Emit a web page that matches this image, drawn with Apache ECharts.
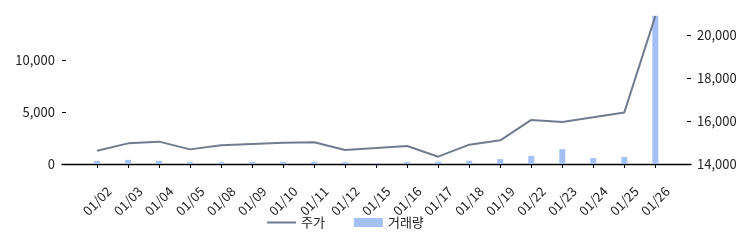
<!DOCTYPE html>
<html>
<head>
<meta charset="utf-8">
<script src="https://cdn.jsdelivr.net/npm/echarts@6/dist/echarts.min.js"></script>
<style>
html,body{margin:0;padding:0;background:#fff;}
#chart{width:751px;height:247px;}
</style>
</head>
<body>
<div id="chart"></div>
<script>
const categories = ['01/02','01/03','01/04','01/05','01/08','01/09','01/10','01/11','01/12','01/15','01/16','01/17','01/18','01/19','01/22','01/23','01/24','01/25','01/26'];
const price = [14620,14960,15040,14680,14870,14930,14990,15010,14650,14740,14840,14340,14900,15100,16050,15950,16170,16400,20880];
const volume = [280,400,300,180,170,190,200,210,170,90,200,220,300,470,780,1430,570,680,14230];
const volumeTicks = [0,5000,10000];
const priceTicks = [14000,16000,18000,20000];

const idx = categories.map((_, i) => i);
const FONT = '"Noto Sans CJK KR", "Noto Sans", sans-serif';
const chart = echarts.init(document.getElementById('chart'), null, {renderer: 'canvas'});
chart.setOption({
  animation: false,
  textStyle: {fontFamily: FONT},
  grid: {left: 62, right: 60, top: 12, bottom: 83, containLabel: false},
  legend: {
    left: 262, top: 211,
    itemWidth: 29, itemHeight: 9, itemGap: 29,
    symbolKeepAspect: true,
    textStyle: {fontFamily: FONT, fontSize: 13, color: '#222'},
    data: [
      {name: '주가', icon: 'path://M0,0L29,0L29,2L0,2Z'},
      {name: '거래량', icon: 'rect'}
    ]
  },
  xAxis: {
    type: 'value', min: -1.13, max: 19.15,
    splitLine: {show: false},
    axisLine: {show: true, onZero: false, lineStyle: {color: '#000', width: 1.3}},
    axisTick: {show: true, length: 4, customValues: idx, lineStyle: {color: '#000'}},
    axisLabel: {
      customValues: idx, rotate: 45, align: 'center', verticalAlign: 'middle', margin: 37,
      fontFamily: FONT, fontSize: 13, color: '#222',
      formatter: v => categories[Math.round(v)]
    }
  },
  yAxis: [
    {
      type: 'value', min: 0, max: 14600, position: 'left',
      splitLine: {show: false},
      axisLine: {show: false, onZero: false},
      axisTick: {show: true, inside: true, length: 4, customValues: volumeTicks, lineStyle: {color: '#000'}},
      axisLabel: {customValues: volumeTicks, margin: 7, fontFamily: FONT, fontSize: 13, color: '#222',
        formatter: v => v.toLocaleString('en-US')}
    },
    {
      type: 'value', min: 14000, max: 21070, position: 'right',
      splitLine: {show: false},
      axisLine: {show: false, onZero: false},
      axisTick: {show: true, inside: true, length: 4, customValues: priceTicks, lineStyle: {color: '#000'}},
      axisLabel: {customValues: priceTicks, margin: 6, fontFamily: FONT, fontSize: 13, color: '#222',
        formatter: v => v.toLocaleString('en-US')}
    }
  ],
  series: [
    {
      name: '주가', type: 'line', yAxisIndex: 1, z: 3,
      symbol: 'none',
      lineStyle: {color: '#6f7d8f', width: 2},
      itemStyle: {color: '#6f7d8f'},
      data: price.map((v, i) => [i, v])
    },
    {
      name: '거래량', type: 'bar', yAxisIndex: 0, z: 2,
      barWidth: 6,
      itemStyle: {color: '#a4c0f7'},
      data: volume.map((v, i) => [i, v])
    }
  ]
});
</script>
</body>
</html>
